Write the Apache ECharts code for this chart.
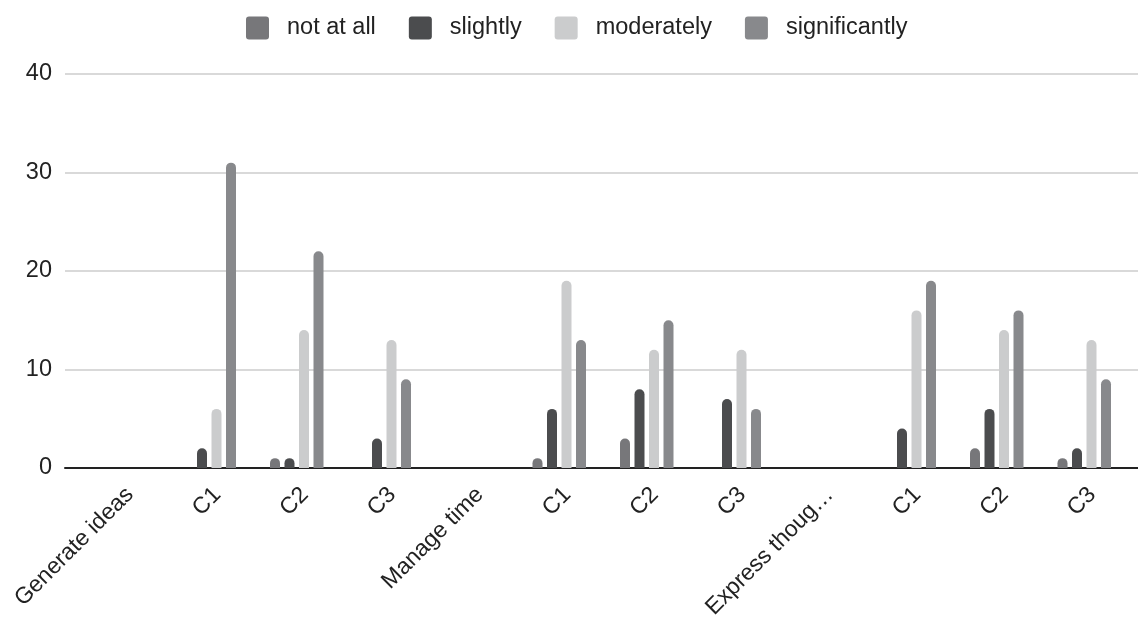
<!DOCTYPE html>
<html>
<head>
<meta charset="utf-8">
<title>Responses by category</title>
<script src="https://cdn.jsdelivr.net/npm/echarts@6/dist/echarts.min.js"></script>
<style>
  html, body { margin: 0; padding: 0; background: #ffffff; }
  #chart { width: 1138px; height: 617px; }
</style>
</head>
<body>
<div id="chart"></div>
<script>
// Category labels along the x axis
const categories = [
  'Generate ideas', 'C1', 'C2', 'C3',
  'Manage time', 'C1', 'C2', 'C3',
  'Express thoug\u2026', 'C1', 'C2', 'C3'
];

// Response counts per series
const notAtAll      = [0, 0, 1, 0, 0, 1, 3, 0, 0, 0, 2, 1];
const slightly      = [0, 2, 1, 3, 0, 6, 8, 7, 0, 4, 6, 2];
const moderately    = [0, 6, 14, 13, 0, 19, 12, 12, 0, 16, 14, 13];
const significantly = [0, 31, 22, 9, 0, 13, 15, 6, 0, 19, 16, 9];

const seriesNames = ['not at all', 'slightly', 'moderately', 'significantly'];
const seriesColors = ['#77777a', '#4b4c4e', '#cbcccd', '#88898c'];

const yTicks = [0, 10, 20, 30, 40];

const FONT = '"Liberation Sans", Arial, sans-serif';
const TEXT = '#222222';

// small square with slightly rounded corners for legend keys
const LEGEND_ICON = 'path://M3,0 H20 A3,3 0 0 1 23,3 V20 A3,3 0 0 1 20,23 H3 A3,3 0 0 1 0,20 V3 A3,3 0 0 1 3,0 Z';

const chart = echarts.init(document.getElementById('chart'), null, { renderer: 'canvas' });

const seriesData = [notAtAll, slightly, moderately, significantly];

const option = {
  animation: false,
  backgroundColor: '#ffffff',
  legend: {
    top: 11,
    left: 241,
    itemWidth: 23,
    itemHeight: 23,
    itemGap: 33,
    icon: LEGEND_ICON,
    data: seriesNames,
    textStyle: { fontFamily: FONT, fontSize: 23.5, color: TEXT, padding: [0, 0, 0, 13] }
  },
  grid: [
    // full-width frame that carries gridlines and the baseline
    { left: 65, right: 0, top: 74, bottom: 149, containLabel: false, outerBoundsMode: 'none' },
    // plotting area for the bars and category labels
    { left: 78, right: 10, top: 74, bottom: 149, containLabel: false, outerBoundsMode: 'none' }
  ],
  xAxis: [
    {
      gridIndex: 0,
      type: 'category',
      data: categories,
      axisTick: { show: false },
      axisLabel: { show: false },
      axisLine: { show: true, lineStyle: { color: '#222222', width: 2 } }
    },
    {
      gridIndex: 1,
      type: 'category',
      data: categories,
      axisTick: { show: false },
      axisLine: { show: false },
      axisLabel: {
        interval: 0,
        rotate: 45,
        margin: 15,
        align: 'right',
        verticalAlign: 'top',
        fontFamily: FONT,
        fontSize: 23,
        color: TEXT
      }
    }
  ],
  yAxis: [
    {
      gridIndex: 0,
      type: 'value',
      min: yTicks[0],
      max: yTicks[yTicks.length - 1],
      interval: yTicks[1] - yTicks[0],
      axisLine: { show: false },
      axisTick: { show: false },
      axisLabel: { margin: 13, fontFamily: FONT, fontSize: 23.5, color: TEXT, padding: [3, 0, 0, 0] },
      splitLine: { lineStyle: { color: '#d9d9d9', width: 2 } }
    },
    {
      gridIndex: 1,
      type: 'value',
      min: yTicks[0],
      max: yTicks[yTicks.length - 1],
      interval: yTicks[1] - yTicks[0],
      show: false,
      splitLine: { show: false }
    }
  ],
  series: seriesNames.map((name, i) => ({
    name: name,
    type: 'bar',
    xAxisIndex: 1,
    yAxisIndex: 1,
    data: seriesData[i],
    barWidth: 10,
    barGap: '45%',
    itemStyle: { color: seriesColors[i], borderRadius: [5, 5, 0, 0] }
  }))
};

chart.setOption(option);
</script>
</body>
</html>
